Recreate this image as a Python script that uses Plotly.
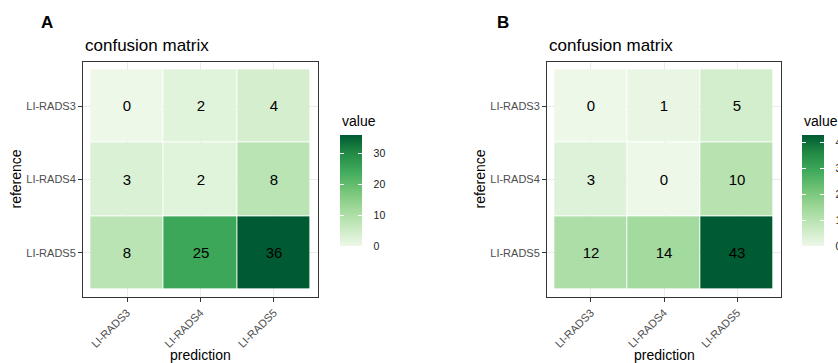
import plotly.graph_objects as go

# Class labels (rows = reference, columns = prediction)
classes = ["LI-RADS3", "LI-RADS4", "LI-RADS5"]

# Confusion matrix counts, panel A
counts_a = [
    [0, 2, 4],
    [3, 2, 8],
    [8, 25, 36],
]

# Confusion matrix counts, panel B
counts_b = [
    [0, 1, 5],
    [3, 0, 10],
    [12, 14, 43],
]

colorbar_ticks = [0, 10, 20, 30, 40]

# The paper is a little wider than the visible page so that the right-hand
# colour bar labels run off the edge instead of squeezing the panels.
W, H = 852, 363
FONT = "Liberation Sans, Arial, sans-serif"

greens = [
    [0.0, "#EDF8E9"], [1 / 6, "#C7E9C0"], [2 / 6, "#A1D99B"], [3 / 6, "#74C476"],
    [4 / 6, "#41AB5D"], [5 / 6, "#238B45"], [1.0, "#005A32"],
]
clear = [[0, "rgba(0,0,0,0)"], [1, "rgba(0,0,0,0)"]]

CB_TOP, CB_LEN, CB_THICK = 135, 111, 22


def px_x(p):
    return p / W


def px_y(p):
    return 1 - p / H


fig = go.Figure()

panels = [
    # (counts, axis suffix, panel left, panel right, colorbar left, letter x, letter)
    (counts_a, "", 83, 318, 340, 39, "A"),
    (counts_b, "2", 547, 781, 802, 495, "B"),
]

top, bottom = 62, 297
idx = list(range(len(classes)))
n_cax = 0


def next_cax():
    global n_cax
    n_cax += 1
    return "coloraxis" if n_cax == 1 else "coloraxis%d" % n_cax


for z, ax, left, right, cb_left, letter_x, letter in panels:
    zmax = max(max(r) for r in z)
    ticks_here = [t for t in colorbar_ticks if t <= zmax]
    cax = next_cax()
    fig.add_trace(go.Heatmap(
        z=z, x=idx, y=idx,
        coloraxis=cax,
        xgap=1, ygap=1,
        texttemplate="%{z}",
        textfont=dict(size=15, color="black", family=FONT),
        xaxis="x" + ax, yaxis="y" + ax,
        hoverinfo="skip",
    ))
    fig.update_layout({
        cax: dict(
            colorscale=greens, cmin=0, cmax=zmax,
            colorbar=dict(
                x=px_x(cb_left), xanchor="left", xref="paper",
                y=px_y(CB_TOP), yanchor="top", yref="paper",
                len=CB_LEN / H, lenmode="fraction",
                thickness=CB_THICK, thicknessmode="pixels",
                xpad=0, ypad=0, outlinewidth=0,
                tickvals=ticks_here,
                ticks="outside", tickcolor="rgba(0,0,0,0)", ticklen=10, tickwidth=1,
                tickfont=dict(size=10.5, color="#1a1a1a", family=FONT),
                title=dict(text=""),
            ),
        ),
    })
    # White tick marks drawn inside both edges of the colour bar
    for thick in (CB_THICK, 4):
        tcax = next_cax()
        fig.add_trace(go.Scatter(
            x=[None], y=[None], mode="markers",
            marker=dict(color=[0], coloraxis=tcax),
            xaxis="x" + ax, yaxis="y" + ax, hoverinfo="skip",
        ))
        fig.update_layout({
            tcax: dict(
                colorscale=clear, cmin=0, cmax=zmax,
                colorbar=dict(
                    x=px_x(cb_left), xanchor="left", xref="paper",
                    y=px_y(CB_TOP), yanchor="top", yref="paper",
                    len=CB_LEN / H, lenmode="fraction",
                    thickness=thick, thicknessmode="pixels",
                    xpad=0, ypad=0, outlinewidth=0,
                    bgcolor="rgba(0,0,0,0)",
                    tickvals=ticks_here, showticklabels=False,
                    ticks="inside", tickcolor="white", ticklen=4, tickwidth=1,
                    title=dict(text=""),
                ),
            ),
        })

    fig.update_layout({
        "xaxis" + ax: dict(
            domain=[px_x(left), px_x(right)], range=[-0.6, 2.6],
            anchor="y" + ax,
            tickvals=idx, ticktext=classes, tickangle=-45,
            tickfont=dict(size=11, color="#4D4D4D", family=FONT),
            ticks="outside", ticklen=4, tickcolor="#333333",
            showgrid=True, gridcolor="#EBEBEB", gridwidth=1,
            showline=True, linecolor="#333333", linewidth=1, mirror=True,
            zeroline=False, fixedrange=True,
        ),
        "yaxis" + ax: dict(
            domain=[px_y(bottom), px_y(top)], range=[2.6, -0.6],
            anchor="x" + ax,
            tickvals=idx, ticktext=classes,
            tickfont=dict(size=11, color="#4D4D4D", family=FONT),
            ticks="outside", ticklen=4, tickcolor="#333333",
            showgrid=True, gridcolor="#EBEBEB", gridwidth=1,
            showline=True, linecolor="#333333", linewidth=1, mirror=True,
            zeroline=False, fixedrange=True,
        ),
    })
    cx = (left + right) / 2
    cy = (top + bottom) / 2
    fig.add_annotation(text="<b>" + letter + "</b>", x=px_x(letter_x), y=px_y(23),
                       xanchor="left", yanchor="middle", showarrow=False,
                       font=dict(size=17, color="black", family=FONT))
    fig.add_annotation(text="confusion matrix", x=px_x(left), y=px_y(46),
                       xanchor="left", yanchor="middle", showarrow=False,
                       font=dict(size=17, color="black", family=FONT))
    fig.add_annotation(text="prediction", x=px_x(cx), y=px_y(355),
                       xanchor="center", yanchor="middle", showarrow=False,
                       font=dict(size=14, color="black", family=FONT))
    fig.add_annotation(text="reference", x=px_x(left - 67), y=px_y(cy),
                       xanchor="center", yanchor="middle", showarrow=False,
                       textangle=-90,
                       font=dict(size=14, color="black", family=FONT))
    fig.add_annotation(text="value", x=px_x(cb_left), y=px_y(121),
                       xanchor="left", yanchor="middle", showarrow=False,
                       font=dict(size=14, color="black", family=FONT))

for a in fig.layout.annotations:
    a.xref = "paper"
    a.yref = "paper"

fig.update_layout(
    width=W, height=H, autosize=False,
    margin=dict(l=0, r=0, t=0, b=0),
    paper_bgcolor="white", plot_bgcolor="white",
    font=dict(family=FONT),
    showlegend=False,
)

# Hide page scrollbars; the extra paper width is simply clipped at the edge.
hide_overflow = (
    "document.documentElement.style.overflow='hidden';"
    "document.body.style.overflow='hidden';"
    "document.body.style.margin='0';"
)

fig.write_html("out.html", post_script=hide_overflow)
